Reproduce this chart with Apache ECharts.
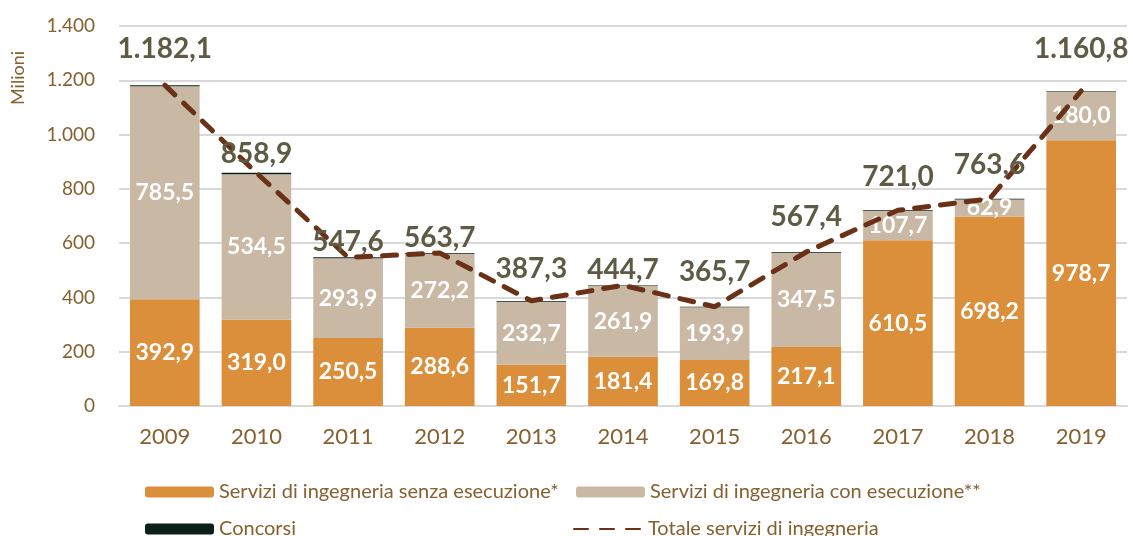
<!DOCTYPE html>
<html>
<head>
<meta charset="utf-8">
<script src="https://cdn.jsdelivr.net/npm/echarts@6/dist/echarts.min.js"></script>
<style>
  html, body { margin: 0; padding: 0; background: #fff; }
  #chart { width: 1133px; height: 536px; }
</style>
</head>
<body>
<div id="chart"></div>
<script>
const years = ["2009", "2010", "2011", "2012", "2013", "2014", "2015", "2016", "2017", "2018", "2019"];
const senzaEsecuzione = [392.9, 319.0, 250.5, 288.6, 151.7, 181.4, 169.8, 217.1, 610.5, 698.2, 978.7];
const conEsecuzione = [785.5, 534.5, 293.9, 272.2, 232.7, 261.9, 193.9, 347.5, 107.7, 62.9, 180.0];
const concorsi = [3.7, 5.4, 3.2, 2.9, 2.9, 1.4, 2.0, 2.8, 2.8, 2.5, 2.1];
const totale = [1182.1, 858.9, 547.6, 563.7, 387.3, 444.7, 365.7, 567.4, 721.0, 763.6, 1160.8];

// how far each total label sits above its point (px)
const totalLabelLift = [21, 4, 0, 0, 17, 0, 20, 20, 18, 19, 27];

const FONT = "Lato";
const axisColor = "#86602f";
const lineColor = "#6a3117";

const fmt = (v, dec) => v.toLocaleString("it-IT", { minimumFractionDigits: dec, maximumFractionDigits: dec, useGrouping: true });
const fmtThousands = (v) => String(v).replace(/\B(?=(\d{3})+(?!\d))/g, ".");

const chart = echarts.init(document.getElementById("chart"));

const barLabel = {
  show: true,
  position: "inside",
  color: "#fff",
  fontFamily: FONT,
  fontWeight: "bold",
  fontSize: 23,
  formatter: (p) => fmt(p.value, 1),
};

const legendText = { color: axisColor, fontFamily: FONT, fontSize: 20 };

chart.setOption({
  animation: false,
  grid: { left: 119, right: 6, top: 26, bottom: 130 },
  xAxis: {
    type: "category",
    data: years,
    axisTick: { show: false },
    axisLine: { lineStyle: { color: "#d9d9d9", width: 2 } },
    axisLabel: { color: axisColor, fontFamily: FONT, fontSize: 22, margin: 20 },
  },
  yAxis: {
    type: "value",
    min: 0,
    max: 1400,
    interval: 200,
    axisLabel: { color: axisColor, fontFamily: FONT, fontSize: 19, margin: 24, formatter: fmtThousands },
    splitLine: { lineStyle: { color: "#d9d9d9", width: 2 } },
  },
  graphic: [
    {
      type: "text",
      x: 18,
      y: 78,
      rotation: Math.PI / 2,
      style: {
        text: "Milioni",
        fill: axisColor,
        font: "18px " + FONT,
        align: "center",
        verticalAlign: "middle",
      },
    },
  ],
  legend: [
    { data: ["Servizi di ingegneria senza esecuzione*"], left: 140, top: 477 },
    { data: ["Servizi di ingegneria con esecuzione**"], left: 571, top: 477 },
    { data: ["Concorsi"], left: 140, top: 514 },
    { data: ["Totale servizi di ingegneria"], left: 568, top: 514 },
  ].map((l) => ({
    ...l,
    itemWidth: 69,
    itemHeight: 11,
    itemGap: 0,
    padding: 5,
    textStyle: legendText,
  })),
  series: [
    {
      name: "Servizi di ingegneria senza esecuzione*",
      type: "bar",
      stack: "tot",
      barWidth: "76%",
      data: senzaEsecuzione,
      itemStyle: { color: "#dc8f3a" },
      label: barLabel,
    },
    {
      name: "Servizi di ingegneria con esecuzione**",
      type: "bar",
      stack: "tot",
      data: conEsecuzione,
      itemStyle: { color: "#c9b9a4" },
      label: barLabel,
    },
    {
      name: "Concorsi",
      type: "bar",
      stack: "tot",
      data: concorsi,
      itemStyle: { color: "#0b2019" },
    },
    {
      name: "Totale servizi di ingegneria",
      type: "line",
      data: totale.map((v, i) => ({
        value: v,
        label: { distance: totalLabelLift[i] },
      })),
      symbol: "circle",
      symbolSize: 2,
      showSymbol: true,
      z: 5,
      lineStyle: { color: lineColor, width: 5, type: [14, 12], cap: "round" },
      itemStyle: { color: "rgba(0,0,0,0)", borderWidth: 0 },
      label: {
        show: true,
        position: "top",
        color: "#5e5a43",
        fontFamily: FONT,
        fontWeight: "bold",
        fontSize: 28,
        formatter: (p) => fmt(p.value, 1),
      },
    },
  ],
});
</script>
</body>
</html>
